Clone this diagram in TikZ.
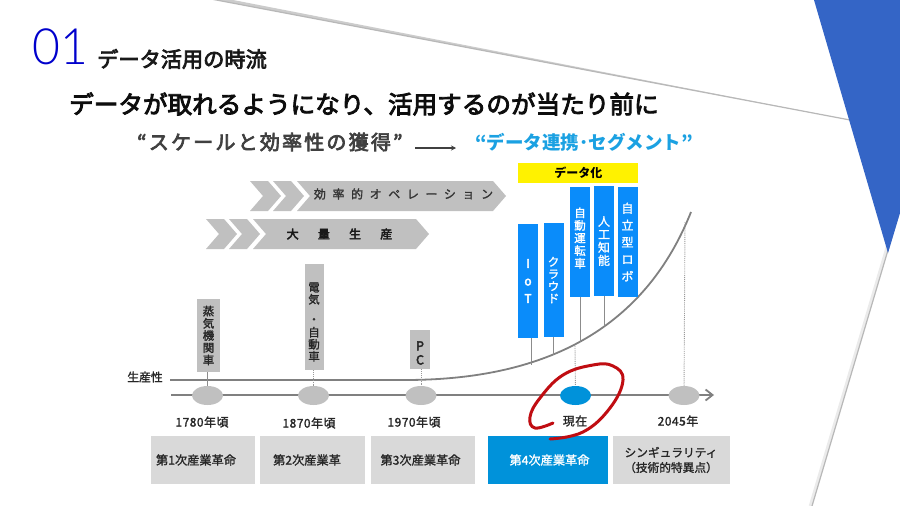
\documentclass[tikz,border=0pt]{standalone}
\usepackage{fontspec}
\setmainfont{Noto Sans CJK JP}
\newfontfamily\numfont{Lato Light}
\newfontfamily\midfont[FakeBold = 1.5]{Noto Sans CJK JP}
\newfontfamily\headfont[FakeBold = 3.5]{Noto Sans CJK JP}
\usetikzlibrary{arrows.meta,shapes.geometric}
\definecolor{slideblue}{HTML}{3465C6}
\definecolor{barblue}{HTML}{0A8CFA}
\definecolor{nowblue}{HTML}{0092DA}
\definecolor{linkblue}{HTML}{1BA1E2}
\definecolor{chevgrey}{HTML}{C0C0C0}
\definecolor{boxgrey}{HTML}{D9D9D9}
\definecolor{ringred}{HTML}{C00D12}
\newcommand{\jpsize}[1]{\fontsize{#1}{#1}\selectfont}
\newcommand{\jplines}[2]{\fontsize{#1}{#2}\selectfont}
\tikzset{
  greybar/.style = {fill = chevgrey, inner sep = 0pt, minimum width = 20pt, align = center, text = black!85},
  bluebar/.style = {fill = barblue, inner sep = 0pt, minimum width = 20pt, minimum height = 110pt, align = center, text = white},
  vtext/.style = {inner sep = 0pt, align = center},
  eventdot/.style = {shape = ellipse, fill = chevgrey, inner sep = 0pt, minimum width = 31pt, minimum height = 19pt},
  yearlabel/.style = {inner sep = 0pt, text = black!85, font = \midfont\jpsize{12}\addfontfeature{LetterSpace=4}},
  stem/.style = {draw = black!45, line width = .9pt},
  dotstem/.style = {draw = black!40, line width = .9pt, densely dotted},
  edgeline/.style = {draw = black!28, line width = 1.2pt},
  edgeglow/.style = {draw = black!8, line width = 3.5pt}
}
\begin{document}
\begin{tikzpicture}[x = 1pt, y = -1pt]
    \useasboundingbox (0,0) rectangle (900,506);
    \fill [white] (0,0) rectangle (900,506);
    % slide background
    \fill [black!20] (211,-1) -- (850,120) -- (228,-1) -- cycle;
    \draw [edgeline] (211,-1) -- (850,120);
    \draw [edgeglow] (897.5,213) -- (810.5,506);
    \draw [edgeline] (899,213) -- (812,506);
    \fill [slideblue] (814,0) -- (900,0) -- (900,213) -- (888,253) -- cycle;
    % title
    \node [inner sep = 0pt, anchor = west, text = blue!80!black, font = \numfont\jpsize{50}\addfontfeature{FakeStretch = .96}] (num) at (32,47) {01};
    \node [inner sep = 0pt, anchor = west, text = black!90, font = \headfont\jpsize{21.2}] (title) at (97,59) {データ活用の時流};
    \node [inner sep = 0pt, anchor = west, text = black!95, font = \headfont\jpsize{24.6}] (lead) at (69,104) {データが取れるようになり、活用するのが当たり前に};
    \node [inner sep = 0pt, anchor = west, text = black!75, font = \headfont\jpsize{20}\addfontfeature{LetterSpace=11}] (gain) at (137,142) {“スケールと効率性の獲得”};
    \node [inner sep = 0pt, anchor = west, text = linkblue, font = \bfseries\jpsize{18.5}] (link) at (475,142) {“データ連携･セグメント”};
    \coordinate (shiftstart) at (415,148);
    \coordinate (shiftend) at (456,148);
    \draw [-{Stealth[length = 5pt, width = 5pt]}, line width = 1.3pt, black!75] (shiftstart) -- (shiftend);
    % chevrons
    \fill [chevgrey] (250,181) --++ (18,0) --++ (13,15) --++ (-13,15) --++ (-18,0) --++ (13,-15) -- cycle;
    \fill [chevgrey] (273,181) --++ (18,0) --++ (13,15) --++ (-13,15) --++ (-18,0) --++ (13,-15) -- cycle;
    \fill [chevgrey] (297,181) --++ (196,0) --++ (13,15) --++ (-13,15) --++ (-196,0) --++ (13,-15) -- cycle;
    \fill [chevgrey] (206,219) --++ (18,0) --++ (13,15) --++ (-13,15) --++ (-18,0) --++ (13,-15) -- cycle;
    \fill [chevgrey] (229,219) --++ (18,0) --++ (13,15) --++ (-13,15) --++ (-18,0) --++ (13,-15) -- cycle;
    \fill [chevgrey] (253,219) --++ (163,0) --++ (13,15) --++ (-13,15) --++ (-163,0) --++ (13,-15) -- cycle;
    \node [inner sep = 0pt, text = black!80, font = \midfont\jpsize{12}\addfontfeature{LetterSpace=55}] (ops) at (403.5,194) {効率的オペレーション};
    \node [inner sep = 0pt, text = black!90, font = \headfont\jpsize{12}\addfontfeature{LetterSpace=160}] (mass) at (339.5,234) {大量生産};
    % timeline and curve
    \coordinate (axisstart) at (171,395);
    \coordinate (axisend) at (714,395);
    \draw [-{Straight Barb[length = 7pt, width = 11pt]}, line width = 1.8pt, black!50] (axisstart) -- (axisend);
    \node [inner sep = 0pt, text = black!85, font = \midfont\jpsize{11.8}] (prod) at (145,377) {生産性};
    \coordinate (curvestart) at (170,380);
    \coordinate (curvebend) at (405,380);
    \coordinate (curveend) at (691,212);
    \draw [line width = 1.8pt, black!50] (curvestart) -- (curvebend) .. controls (530,380) and (640,340) .. (curveend);
    % vertical labels
    \node [greybar, minimum width = 23pt, minimum height = 73pt, font = \midfont\jplines{11.5}{12.2}] (steam) at (208.5,335.5) {蒸\\気\\機\\関\\車};
    \node [greybar, minimum width = 19pt, minimum height = 106pt] (power) at (314.5,317) {};
    \node [vtext, text = black!85, font = \midfont\jplines{11.5}{12}] (powertext) at (314,322) {電\\気\\[8pt]・\\[1pt]自\\動\\車};
    \node [greybar, minimum height = 39pt] (pc) at (420,349.5) {};
    \node [vtext, text = black!85, font = \headfont\jplines{12.5}{14}] (pctext) at (420,353) {P\\C};
    % blue bars
    \node [bluebar, minimum height = 114pt, font = \headfont\jplines{12}{17.5}] (iot) at (528,281) {I\\o\\T};
    \node [bluebar, minimum height = 114pt, font = \midfont\jplines{11.5}{12.2}] (cloud) at (553.5,280) {ク\\ラ\\ウ\\ド};
    \node [bluebar] (car) at (580,242) {};
    \node [vtext, text = white, font = \midfont\jplines{11.5}{12.6}] (cartext) at (580,238) {自\\動\\運\\転\\車};
    \node [bluebar, font = \midfont\jplines{12}{13}] (ai) at (604,241) {人\\工\\知\\能};
    \node [bluebar, font = \midfont\jplines{12}{17}] (robot) at (627.5,242) {自\\立\\型\\ロ\\ボ};
    \node [fill = yellow, inner sep = 0pt, minimum width = 120pt, minimum height = 20.5pt, text = black, font = \bfseries\jpsize{12}] (data) at (578.25,173) {データ化};
    % event dots
    \node [eventdot] (dotsteam) at (207.5,395.5) {};
    \node [eventdot] (dotpower) at (313.5,395.5) {};
    \node [eventdot] (dotpc) at (421,395.5) {};
    \node [eventdot, fill = nowblue] (dotnow) at (575.5,395.5) {};
    \node [eventdot] (dotfuture) at (684,395.5) {};
    % stems
    \coordinate (iotfoot) at (531,365);
    \coordinate (cloudfoot) at (553.5,355);
    \coordinate (carfoot) at (580,342);
    \coordinate (aifoot) at (604,326);
    \coordinate (nowtop) at (575,346);
    \coordinate (futuretop) at (685,222);
    \draw [stem] (steam.south -| dotsteam) -- (dotsteam);
    \draw [dotstem] (power.south -| dotpower) -- (dotpower);
    \draw [dotstem] (pc.south -| dotpc) -- (dotpc);
    \draw [stem] (iot.south -| iotfoot) -- (iotfoot);
    \draw [stem] (cloud.south) -- (cloudfoot);
    \draw [stem] (car.south) -- (carfoot);
    \draw [stem] (ai.south) -- (aifoot);
    \draw [dotstem] (nowtop) -- (dotnow);
    \draw [dotstem] (futuretop) -- (dotfuture);
    % years
    \node [yearlabel] (y1780) at (202,422) {1780年頃};
    \node [yearlabel] (y1870) at (309,423) {1870年頃};
    \node [yearlabel] (y1970) at (414,422) {1970年頃};
    \node [yearlabel] (ynow) at (575,421) {現在};
    \node [yearlabel] (y2045) at (678,421) {2045年};
    % eras
    \fill [boxgrey] (150.5,436) rectangle (255,484);
    \fill [boxgrey] (260,436) rectangle (365,484);
    \fill [boxgrey] (371,436) rectangle (475,484);
    \fill [nowblue] (487.5,436) rectangle (608,484);
    \fill [boxgrey] (612.5,435.5) rectangle (730,483.5);
    \node [inner sep = 0pt, text = black!85, font = \midfont\jpsize{12.2}] (era1) at (196,460) {第1次産業革命};
    \node [inner sep = 0pt, text = black!85, font = \midfont\jpsize{12.2}] (era2) at (307,460) {第2次産業革};
    \node [inner sep = 0pt, text = black!85, font = \midfont\jpsize{12.2}] (era3) at (420.5,460) {第3次産業革命};
    \node [inner sep = 0pt, text = white, font = \midfont\jpsize{12.2}] (era4) at (549.5,460) {第4次産業革命};
    \node [inner sep = 0pt, align = center, text = black!85, font = \midfont\jplines{11.7}{15}] (era5) at (671,460) {シンギュラリティ\\（技術的特異点）};
    % ring
    \draw [ringred, line width = 3pt, line cap = round] plot [smooth, tension = .7] coordinates {(550,439) (583,432) (610,408) (623,380) (613,366) (593,365) (563,375) (540,398) (530,417) (535,428) (553,423)};
\end{tikzpicture}
\end{document}
